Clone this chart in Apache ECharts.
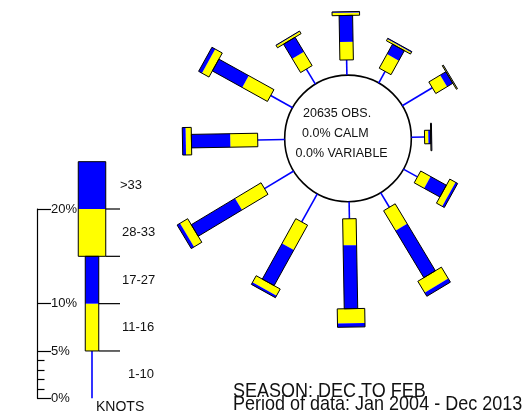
<!DOCTYPE html>
<html>
<head>
<meta charset="utf-8">
<script src="https://cdn.jsdelivr.net/npm/echarts@6/dist/echarts.min.js"></script>
<style>
  html, body { margin: 0; padding: 0; background: #ffffff; }
  #chart { width: 527px; height: 418px; }
</style>
</head>
<body>
<div id="chart"></div>
<script>
// Wind rose: percentage frequency by direction and speed class (knots)
const DIRECTIONS = [0, 30, 60, 90, 120, 150, 180, 210, 240, 270, 300, 330];
const PCT_1_10  = [1.6, 1.4, 3.7, 1.4, 1.7, 1.8, 1.8, 3.4, 3.6, 2.85, 2.65, 1.85];
const PCT_11_16 = [1.9, 1.7, 1.4, 0.4, 1.2, 2.45, 2.8, 3.0, 3.2, 2.9, 3.05, 1.7];
const PCT_17_27 = [2.8, 1.2, 0.7, 0.25, 1.9, 5.8, 6.7, 4.3, 5.4, 4.1, 3.6, 1.8];
const PCT_28_33 = [0.3, 0.2, 0.1, 0.05, 0.7, 1.4, 1.55, 0.8, 0.95, 0.6, 0.85, 0.25];
const PCT_GT_33 = [0.1, 0.1, 0.03, 0.05, 0.25, 0.45, 0.4, 0.25, 0.35, 0.35, 0.4, 0.07];

const SPEED_BINS = ['1-10', '11-16', '17-27', '28-33', '>33'];
const LEGEND_STEP = 5;                 // percent shown by each legend block
const SCALE_TICKS = [0, 5, 10, 20];    // labelled scale ticks (%)
const SCALE_MINOR = [1, 2, 3, 4];      // small scale ticks (%)

const OBS_COUNT = 20635;
const CALM_PCT = 0.0;
const VARIABLE_PCT = 0.0;
const TITLE_LINES = ['SEASON: DEC TO FEB', 'Period of data: Jan 2004 - Dec 2013'];

// ---- styling / layout ----
const FONT = '"Liberation Sans", Arial, Helvetica, sans-serif';
const YELLOW = '#ffff00';
const BLUE = '#0000ff';
const NARROW_W = 13.5;
const WIDE_W = 27.5;
const PX_PER_PCT = 9.465;
const HUB_PCT = 6.69;           // hub radius expressed in percent units
const ROSE_MAX = 20;
const ROSE_CENTER = [348, 138.4];

const roseData = DIRECTIONS.map((d, i) => [d, PCT_1_10[i], PCT_11_16[i], PCT_17_27[i], PCT_28_33[i], PCT_GT_33[i]]);

function barPolygon(p0, p1, nx, ny, w) {
  const h = w / 2;
  return [
    [p0[0] + nx * h, p0[1] + ny * h],
    [p1[0] + nx * h, p1[1] + ny * h],
    [p1[0] - nx * h, p1[1] - ny * h],
    [p0[0] - nx * h, p0[1] - ny * h]
  ];
}

function renderRose(params, api) {
  const dir = api.value(0);
  const v = [1, 2, 3, 4, 5].map(k => api.value(k));
  const c0 = api.coord([0, dir]);
  const cf = api.coord([10, dir]);
  const len = Math.hypot(cf[0] - c0[0], cf[1] - c0[1]);
  const ux = (cf[0] - c0[0]) / len, uy = (cf[1] - c0[1]) / len;
  const nx = -uy, ny = ux;
  const children = [];
  const r1 = v[0];
  const pLine = api.coord([r1, dir]);
  children.push({ type: 'line', shape: { x1: c0[0], y1: c0[1], x2: pLine[0], y2: pLine[1] },
    style: { stroke: BLUE, lineWidth: 1.6 } });
  let cum = r1;
  const edges = [cum];
  for (let k = 1; k < 5; k++) {
    const s = api.coord([cum, dir]);
    cum += v[k];
    edges.push(cum);
    const e = api.coord([cum, dir]);
    children.push({ type: 'polygon', shape: { points: barPolygon(s, e, nx, ny, k < 3 ? NARROW_W : WIDE_W) },
      style: { fill: k % 2 === 1 ? YELLOW : BLUE, stroke: null } });
  }
  // outlines around narrow (11-27) and wide (28+) parts
  const a = api.coord([edges[0], dir]), b = api.coord([edges[2], dir]), c = api.coord([edges[4], dir]);
  children.push({ type: 'polygon', shape: { points: barPolygon(a, b, nx, ny, NARROW_W) },
    style: { fill: null, stroke: '#000', lineWidth: 1 } });
  children.push({ type: 'polygon', shape: { points: barPolygon(b, c, nx, ny, WIDE_W) },
    style: { fill: null, stroke: '#000', lineWidth: 1 } });
  return { type: 'group', children };
}

function renderHub(params, api) {
  const cs = params.coordSys;
  const p = api.coord([0, 0]);
  const r = Math.hypot(p[0] - cs.cx, p[1] - cs.cy);
  return { type: 'circle', shape: { cx: cs.cx, cy: cs.cy, r: r },
    style: { fill: '#fff', stroke: '#000', lineWidth: 1.6 } };
}

// legend column layout (x values in the legend grid, 1 unit = 1 px)
const LEG_X = 55, LEG_LINE_END = 83, LEG_LABEL_X = 85;
const LEG_LABEL_DX = [6, 0, 0, 0, -2];

function renderLegend(params, api) {
  const children = [];
  const a = api.coord([LEG_X, 0]), b = api.coord([LEG_X, LEGEND_STEP]);
  children.push({ type: 'line', shape: { x1: a[0], y1: a[1], x2: b[0], y2: b[1] },
    style: { stroke: BLUE, lineWidth: 1.6 } });
  for (let k = 1; k < 5; k++) {
    const w = k < 3 ? NARROW_W : WIDE_W;
    const lo = api.coord([LEG_X, k * LEGEND_STEP]);
    const hi = api.coord([LEG_X, (k + 1) * LEGEND_STEP]);
    children.push({ type: 'rect', shape: { x: lo[0] - w / 2, y: hi[1], width: w, height: lo[1] - hi[1] },
      style: { fill: k % 2 === 1 ? YELLOW : BLUE } });
  }
  [[1, 3, NARROW_W], [3, 5, WIDE_W]].forEach(([l, h, w]) => {
    const lo = api.coord([LEG_X, l * LEGEND_STEP]);
    const hi = api.coord([LEG_X, h * LEGEND_STEP]);
    children.push({ type: 'rect', shape: { x: lo[0] - w / 2, y: hi[1], width: w, height: lo[1] - hi[1] },
      style: { fill: null, stroke: '#000', lineWidth: 1 } });
  });
  for (let k = 1; k < 5; k++) {
    const w = k < 3 ? NARROW_W : WIDE_W;
    const p = api.coord([LEG_X, k * LEGEND_STEP]);
    const q = api.coord([LEG_LINE_END, k * LEGEND_STEP]);
    children.push({ type: 'line', shape: { x1: p[0] + w / 2, y1: p[1], x2: q[0], y2: q[1] },
      style: { stroke: '#000', lineWidth: 1.2 } });
  }
  SPEED_BINS.forEach((lab, i) => {
    const p = api.coord([LEG_LABEL_X, (i + 0.5) * LEGEND_STEP]);
    children.push({ type: 'text', x: p[0] + LEG_LABEL_DX[i], y: p[1],
      style: { text: lab, font: '13px ' + FONT, fill: '#111', align: 'left', verticalAlign: 'middle' } });
  });
  return { type: 'group', children };
}

const chart = echarts.init(document.getElementById('chart'), null, { renderer: 'canvas' });

const centerLines = [
  { text: OBS_COUNT + ' OBS.', x: 303, y: 113.5 },
  { text: CALM_PCT.toFixed(1) + '% CALM', x: 302, y: 133.5 },
  { text: VARIABLE_PCT.toFixed(1) + '% VARIABLE', x: 295.5, y: 154 }
];

chart.setOption({
  animation: false,
  backgroundColor: '#ffffff',
  polar: { center: ROSE_CENTER, radius: (ROSE_MAX + HUB_PCT) * PX_PER_PCT },
  radiusAxis: { type: 'value', min: -HUB_PCT, max: ROSE_MAX, show: false,
    axisLine: { show: false }, axisTick: { show: false }, axisLabel: { show: false }, splitLine: { show: false } },
  angleAxis: { type: 'value', min: 0, max: 360, startAngle: 91, clockwise: true, show: false,
    axisLine: { show: false }, axisTick: { show: false }, axisLabel: { show: false }, splitLine: { show: false } },
  grid: { left: 37, top: 209, width: 100, height: 20 * PX_PER_PCT },
  xAxis: { type: 'value', min: 0, max: 100, show: false },
  yAxis: [
    { type: 'value', position: 'left', min: 0, max: 20,
      axisLine: { show: true, lineStyle: { color: '#000', width: 1.2 } },
      axisTick: { show: true, inside: true, length: 14, customValues: SCALE_TICKS, lineStyle: { color: '#000', width: 1.2 } },
      axisLabel: { show: true, inside: true, margin: 14, customValues: SCALE_TICKS, formatter: '{value}%',
        color: '#111', fontSize: 13, fontFamily: FONT, align: 'left' },
      splitLine: { show: false } },
    { type: 'value', position: 'left', offset: 0, min: 0, max: 20,
      axisLine: { show: false },
      axisTick: { show: true, inside: true, length: 7.5, customValues: SCALE_MINOR, lineStyle: { color: '#000', width: 1.2 } },
      axisLabel: { show: false }, splitLine: { show: false } }
  ],
  series: [
    { type: 'custom', coordinateSystem: 'polar', renderItem: renderHub, data: [[0, 0]], z: 1,
      encode: { radius: 0, angle: 1 }, silent: true },
    { type: 'custom', coordinateSystem: 'polar', renderItem: renderRose, data: roseData, z: 2,
      encode: { angle: 0, radius: 1 }, silent: true },
    { type: 'custom', coordinateSystem: 'cartesian2d', xAxisIndex: 0, yAxisIndex: 0,
      renderItem: renderLegend, data: [[0, 0]], z: 2, silent: true }
  ],
  graphic: [
    ...centerLines.map(l => ({ type: 'text', x: l.x, y: l.y, z: 100,
      style: { text: l.text, font: '12.5px ' + FONT, fill: '#111', align: 'left', verticalAlign: 'middle' } })),
    { type: 'text', x: 96, y: 407, z: 100,
      style: { text: 'KNOTS', font: '14px ' + FONT, fill: '#111', align: 'left', verticalAlign: 'middle' } },
    { type: 'text', x: 233, y: 391.7, scaleY: 1.13, z: 100,
      style: { text: TITLE_LINES[0], font: '18px ' + FONT, fill: '#111', align: 'left', verticalAlign: 'middle' } },
    { type: 'text', x: 233, y: 404.5, scaleY: 1.13, z: 100,
      style: { text: TITLE_LINES[1], font: '18px ' + FONT, fill: '#111', align: 'left', verticalAlign: 'middle' } }
  ]
});
</script>
</body>
</html>
